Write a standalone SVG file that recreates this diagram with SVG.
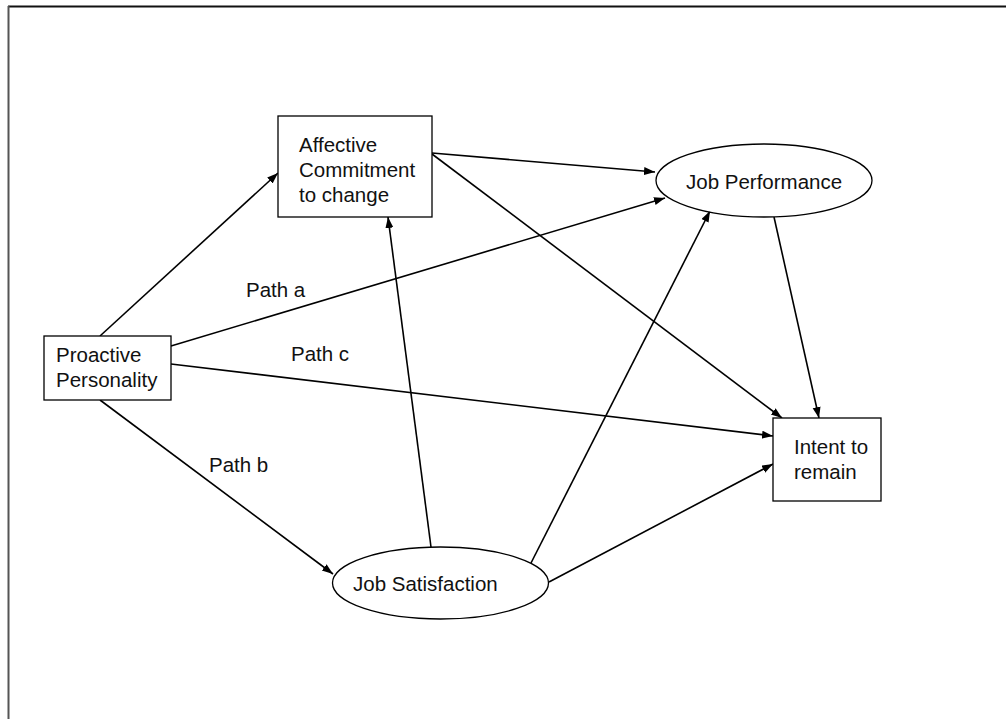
<svg xmlns="http://www.w3.org/2000/svg" width="1006" height="719" viewBox="0 0 1006 719">
  <style>
    .box { fill: #ffffff; stroke: #000000; stroke-width: 1.3; }
    .lbl { font-family: "Liberation Sans", Arial, sans-serif; font-size: 20.5px; fill: #111111; }
    .edge { fill: none; stroke: #000000; stroke-width: 1.6; marker-end: url(#arrow); }
  </style>
  <defs>
    <marker id="arrow" markerUnits="userSpaceOnUse" markerWidth="12" markerHeight="9" refX="11" refY="4" orient="auto">
      <path d="M0,0 L11,4 L0,8 z" fill="#000000"/>
    </marker>
  </defs>

  <rect x="0" y="0" width="1006" height="719" fill="#ffffff"/>

  <!-- page frame -->
  <g id="frame">
    <line x1="8" y1="6.5" x2="1006" y2="6.5" stroke="#111111" stroke-width="2"/>
    <line x1="8.5" y1="6" x2="8.5" y2="719" stroke="#555555" stroke-width="2"/>
  </g>

  <!-- connectors -->
  <g id="connectors">
    <line class="edge" x1="100" y1="336" x2="278" y2="173"/>
    <line class="edge" x1="432" y1="153" x2="655" y2="172"/>
    <line class="edge" x1="432" y1="154" x2="782" y2="418"/>
    <line class="edge" x1="171" y1="346" x2="665" y2="198"/>
    <line class="edge" x1="171" y1="364" x2="773" y2="436"/>
    <line class="edge" x1="100" y1="400" x2="333" y2="574"/>
    <line class="edge" x1="431" y1="547" x2="388" y2="217"/>
    <line class="edge" x1="531" y1="563" x2="710" y2="211"/>
    <line class="edge" x1="549" y1="582" x2="773" y2="464"/>
    <line class="edge" x1="774" y1="217" x2="819" y2="418"/>
  </g>

  <!-- path labels -->
  <g id="path-labels">
    <text class="lbl" x="246" y="297">Path a</text>
    <text class="lbl" x="291" y="361">Path c</text>
    <text class="lbl" x="209" y="472">Path b</text>
  </g>

  <g id="affective-commitment">
    <rect class="box" x="278" y="116" width="154" height="101"/>
    <text class="lbl" x="299" y="152">Affective</text>
    <text class="lbl" x="299" y="177">Commitment</text>
    <text class="lbl" x="299" y="202">to change</text>
  </g>

  <g id="job-performance">
    <ellipse class="box" cx="764" cy="180.5" rx="108" ry="36.5"/>
    <text class="lbl" x="686" y="189">Job Performance</text>
  </g>

  <g id="proactive-personality">
    <rect class="box" x="44" y="336" width="127" height="64"/>
    <text class="lbl" x="56" y="362">Proactive</text>
    <text class="lbl" x="56" y="387">Personality</text>
  </g>

  <g id="intent-to-remain">
    <rect class="box" x="773" y="418" width="108" height="83"/>
    <text class="lbl" x="794" y="454">Intent to</text>
    <text class="lbl" x="794" y="479">remain</text>
  </g>

  <g id="job-satisfaction">
    <ellipse class="box" cx="440.5" cy="583" rx="108" ry="36"/>
    <text class="lbl" x="353" y="591">Job Satisfaction</text>
  </g>
</svg>
